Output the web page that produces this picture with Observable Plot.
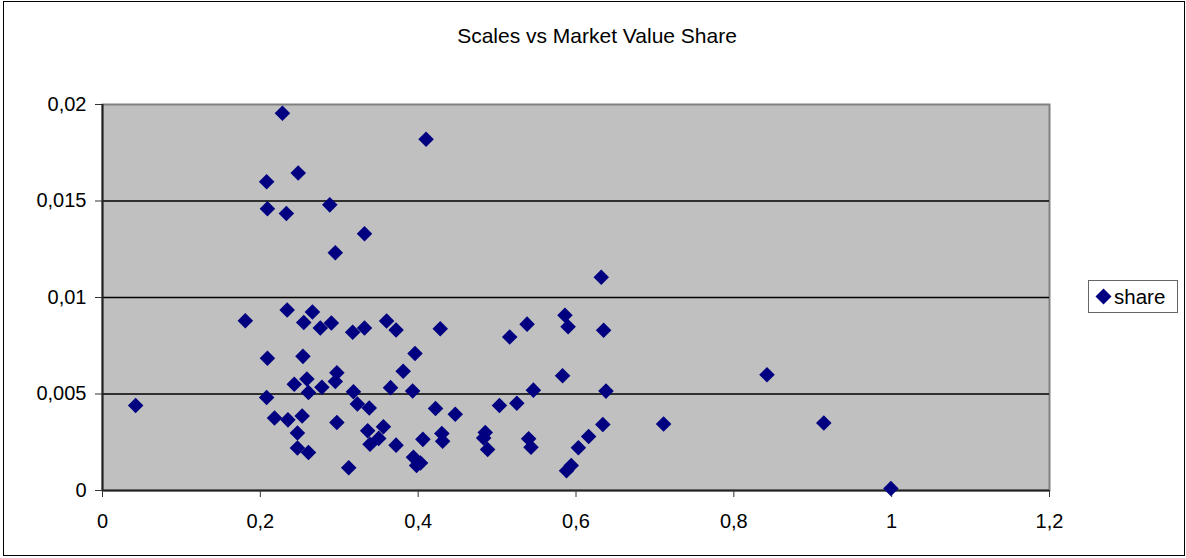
<!DOCTYPE html>
<html>
<head>
<meta charset="utf-8">
<script src="https://cdn.jsdelivr.net/npm/d3@7"></script>
<script src="https://cdn.jsdelivr.net/npm/@observablehq/plot@0.6"></script>
<style>
  html, body { margin: 0; padding: 0; background: #fff; }
  #wrap { position: relative; width: 1186px; height: 558px; font-family: "Liberation Sans", Arial, sans-serif; }
  #wrap svg { display: block; }
  #border { position: absolute; left: 3px; top: 1px; width: 1180px; height: 553px; border: 1px solid #000; pointer-events: none; }
  #title { position: absolute; left: 0; width: 1194px; top: 24px; text-align: center; font-size: 21px; line-height: 24px; color: #000; }
  #legend { position: absolute; left: 1088px; top: 280px; width: 88px; height: 31px; border: 1px solid #666; background: #fff; box-sizing: content-box; display: flex; align-items: center; font-size: 20.5px; }
  #legend svg { margin-left: 6px; margin-right: 2px; }
</style>
</head>
<body>
<div id="wrap">
  <div id="chart"></div>
  <div id="title">Scales vs Market Value Share</div>
  <div id="legend"><svg width="17" height="17" viewBox="0 0 17 17"><polygon points="8.5,0.5 16.5,8.5 8.5,16.5 0.5,8.5" fill="#000080"/></svg><span>share</span></div>
  <div id="border"></div>
</div>
<script>
const seriesName = "share";
const scales = [0.042,0.181,0.228,0.208,0.209,0.248,0.233,0.288,0.410,0.332,0.295,0.632,
  0.234,0.266,0.255,0.276,0.290,0.317,0.332,0.360,0.372,0.428,0.516,0.538,0.586,0.590,0.635,
  0.209,0.254,0.396,0.381,0.297,0.295,0.259,0.243,0.278,0.261,0.318,0.365,0.393,0.583,0.546,0.638,
  0.208,0.323,0.338,0.422,0.447,0.503,0.525,0.218,0.235,0.253,0.247,0.297,0.336,0.356,0.339,0.350,0.372,
  0.406,0.430,0.431,0.485,0.483,0.488,0.540,0.543,0.634,0.711,0.842,0.914,0.999,
  0.247,0.261,0.312,0.394,0.398,0.403,0.588,0.594,0.603,0.616];
const marketShare = [0.0044,0.0088,0.01955,0.0160,0.01460,0.01645,0.01435,0.01480,0.01820,0.01330,0.01232,0.01105,
  0.00935,0.00925,0.00870,0.00842,0.00868,0.00820,0.00842,0.00878,0.00832,0.00838,0.00795,0.00862,0.00908,0.00848,0.00830,
  0.00685,0.00695,0.00710,0.00618,0.00610,0.00565,0.00578,0.00550,0.00535,0.00508,0.00512,0.00533,0.00516,0.00595,0.00520,0.00515,
  0.00482,0.00448,0.00428,0.00425,0.00395,0.00440,0.00452,0.00376,0.00366,0.00386,0.00298,0.00352,0.00310,0.00330,0.00240,0.00270,0.00235,
  0.00265,0.00295,0.00255,0.00300,0.00272,0.00212,0.00268,0.00224,0.00342,0.00345,0.00600,0.00350,0.00010,
  0.00220,0.00197,0.00118,0.00172,0.00130,0.00142,0.00102,0.00130,0.00222,0.00280];
const xTicks = [0, 0.2, 0.4, 0.6, 0.8, 1, 1.2];
const yTicks = [0, 0.005, 0.01, 0.015, 0.02];
const gridValues = [0.005, 0.01, 0.015];

const data = scales.map((x, i) => ({x, y: marketShare[i], series: seriesName}));
const comma = d => String(+d.toFixed(6)).replace(".", ",");

const chart = Plot.plot({
  width: 1186,
  height: 558,
  marginLeft: 102,
  marginRight: 137,
  marginTop: 104,
  marginBottom: 68,
  style: { fontFamily: "'Liberation Sans', Arial, sans-serif", fontSize: "20px", color: "#000", background: "transparent", overflow: "visible" },
  x: { domain: [0, 1.2] },
  y: { domain: [0, 0.02] },
  marks: [
    Plot.frame({ fill: "#c0c0c0", stroke: "#808080", strokeWidth: 2 }),
    Plot.ruleY(gridValues, { stroke: "#000", strokeWidth: 1.3 }),
    Plot.ruleX([0], { stroke: "#222", strokeWidth: 2 }),
    Plot.ruleY([0], { stroke: "#222", strokeWidth: 2 }),
    Plot.axisX({ ticks: xTicks, tickFormat: comma, tickSize: 7, tickPadding: 16, stroke: "#333", fill: "#000", label: null }),
    Plot.axisY({ ticks: yTicks, tickFormat: comma, tickSize: 7, tickPadding: 9, stroke: "#333", fill: "#000", label: null }),
    Plot.dot(data, { x: "x", y: "y", symbol: "diamond2", r: 7, fill: "#000080", stroke: "none" })
  ]
});
document.getElementById("chart").appendChild(chart);
</script>
</body>
</html>
